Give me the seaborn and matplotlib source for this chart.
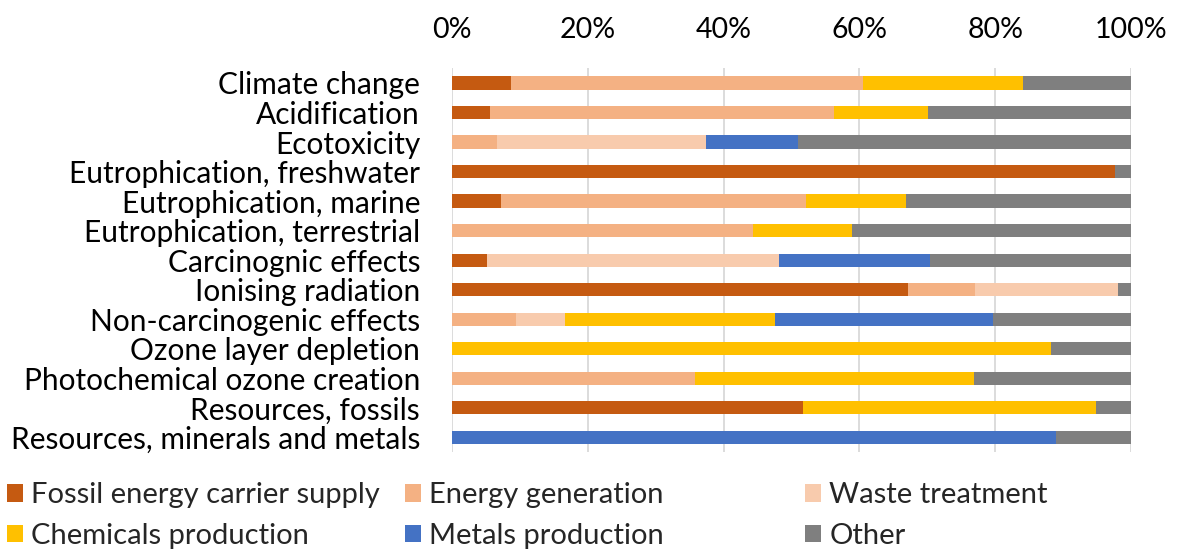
import numpy as np
import pandas as pd
import matplotlib
matplotlib.use("Agg")
import matplotlib.pyplot as plt
from matplotlib.patches import Patch
import seaborn as sns

categories = [
    "Climate change",
    "Acidification",
    "Ecotoxicity",
    "Eutrophication, freshwater",
    "Eutrophication, marine",
    "Eutrophication, terrestrial",
    "Carcinognic effects",
    "Ionising radiation",
    "Non-carcinogenic effects",
    "Ozone layer depletion",
    "Photochemical ozone creation",
    "Resources, fossils",
    "Resources, minerals and metals",
]

# Contribution shares (%) per impact category
fossil_supply = [8.7, 5.6, 0, 97.6, 7.2, 0, 5.1, 67.2, 0, 0, 0, 51.7, 0]
energy_generation = [51.8, 50.6, 6.6, 0, 44.9, 44.3, 0, 9.8, 9.4, 0, 35.8, 0, 0]
waste_treatment = [0, 0, 30.8, 0, 0, 0, 43.0, 21.0, 7.2, 0, 0, 0, 0]
chemicals_production = [23.6, 13.9, 0, 0, 14.7, 14.6, 0, 0, 31.0, 88.2, 41.1, 43.1, 0]
metals_production = [0, 0, 13.6, 0, 0, 0, 22.3, 0, 32.1, 0, 0, 0, 88.9]
other = [15.9, 29.9, 49.0, 2.4, 33.2, 41.1, 29.6, 2.0, 20.3, 11.8, 23.1, 5.2, 11.1]

series_names = [
    "Fossil energy carrier supply",
    "Energy generation",
    "Waste treatment",
    "Chemicals production",
    "Metals production",
    "Other",
]
colors = ["#C55A11", "#F4B183", "#F8CBAD", "#FFC000", "#4472C4", "#7F7F7F"]

df = pd.DataFrame(
    {
        series_names[0]: fossil_supply,
        series_names[1]: energy_generation,
        series_names[2]: waste_treatment,
        series_names[3]: chemicals_production,
        series_names[4]: metals_production,
        series_names[5]: other,
    },
    index=categories,
)
cum = df.cumsum(axis=1)

sns.set_theme(style="white")
plt.rcParams["font.family"] = ["Lato", "DejaVu Sans"]

fig = plt.figure(figsize=(11.77, 5.5), dpi=100)
ax = fig.add_axes([0.384, 0.178, 0.577, 0.698])

# Stacked bars: draw cumulative totals from the last series back to the first
for name, color in reversed(list(zip(series_names, colors))):
    plot_df = pd.DataFrame({"category": categories, "value": cum[name].values})
    sns.barplot(
        data=plot_df, x="value", y="category", orient="h",
        color=color, width=0.45, ax=ax, linewidth=0, saturation=1,
        order=categories,
    )

ax.set_xlim(0, 100)
ax.set_ylim(len(categories) - 0.5, -0.5)
ax.set_xticks(np.arange(0, 101, 20))
ax.set_xticklabels([f"{v}%" for v in range(0, 101, 20)])
ax.xaxis.tick_top()
ax.set_xlabel("")
ax.set_ylabel("")
ax.grid(axis="x", color="#D9D9D9", linewidth=1.3)
ax.grid(axis="y", visible=False)
ax.set_axisbelow(True)
for s in ax.spines.values():
    s.set_visible(False)
ax.tick_params(axis="x", length=0, pad=18, labelsize=20.5, colors="#000000")
ax.tick_params(axis="y", length=0, pad=23, labelsize=21.5, colors="#000000")

# Legend in three equally spaced columns, two rows
handles = [Patch(facecolor=c, edgecolor="none") for c in colors]
col_x = [0.006, 0.344, 0.684]
for i, x in enumerate(col_x):
    idx = [i, i + 3]
    fig.legend(
        [handles[j] for j in idx], [series_names[j] for j in idx],
        loc="upper left", bbox_to_anchor=(x, 0.123), frameon=False,
        fontsize=21, handlelength=0.55, handleheight=0.55, handletextpad=0.28,
        labelspacing=0.5, borderaxespad=0, borderpad=0,
    )

fig.savefig("out.png", dpi=100)
